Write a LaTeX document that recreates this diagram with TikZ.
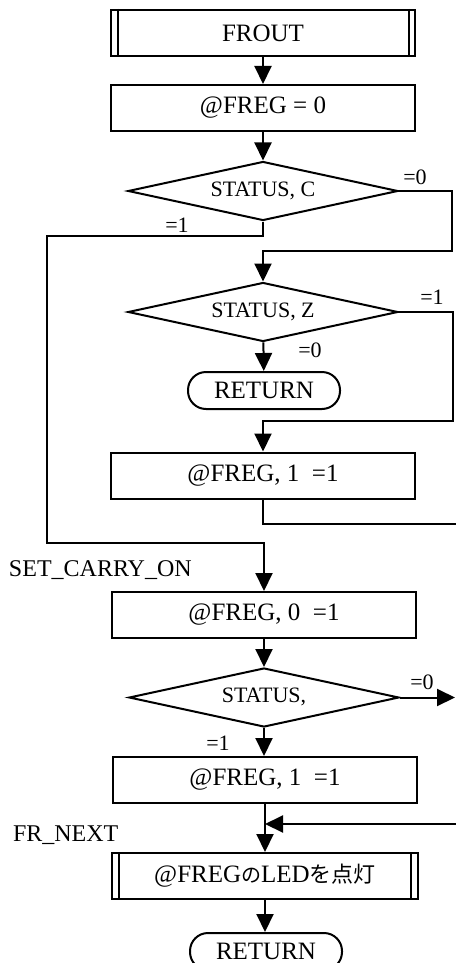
\documentclass[tikz,border=0pt]{standalone}
\usepackage{fontspec}
\setmainfont{Liberation Serif}
\newfontfamily\cjk{Noto Sans CJK JP}
\usetikzlibrary{shapes.geometric,arrows.meta}

\begin{document}
\begin{tikzpicture}[x=0.5pt,y=-0.5pt,line width=1pt,
  box/.style={draw,minimum width=152pt,minimum height=23pt,inner sep=0pt,
    font=\fontsize{12.5}{14}\selectfont},
  dec/.style={draw,diamond,aspect=4.6,minimum width=135pt,minimum height=29.5pt,inner sep=0pt,
    font=\fontsize{11}{12}\selectfont},
  term/.style={draw,rounded corners=9pt,minimum width=76pt,minimum height=18.5pt,
    inner sep=0pt,font=\fontsize{12.5}{14}\selectfont},
  flow/.style={-{Triangle[width=8.5pt,length=9pt]}},
  lbl/.style={inner sep=0pt,font=\fontsize{11}{12}\selectfont},
  tag/.style={inner sep=0pt,anchor=west,font=\fontsize{12}{14}\selectfont}]

\useasboundingbox (0,0) rectangle (455,963);

% main column
\node[box] (frout) at (263,33) {FROUT};
\node[box] (freg0) at (263,108) {@FREG = 0};
\node[dec] (d1) at (263,191) {STATUS, C};
\node[dec] (d2) at (263,312) {STATUS, Z};
\node[term] (ret1) at (264,390.5) {RETURN};
\node[box] (freg1a) at (263,475.5) {@FREG, 1\ \ =1};
\node[box] (freg01) at (264,615) {@FREG, 0\ \ =1};
\node[dec] (d3) at (264,697.5) {\raisebox{2pt}{STATUS,}};
\node[box] (freg1b) at (265,780) {@FREG, 1\ \ =1};
\node[box,minimum width=153pt] (led) at (265,876) {@FREG{\cjk\fontsize{10}{12}\selectfont の}LED{\cjk\fontsize{11}{12}\selectfont を点灯}};
\node[term] (ret2) at (266,951.5) {RETURN};

% predefined-process side bars
\draw ([xshift=3.75pt]frout.north west) -- ([xshift=3.75pt]frout.south west);
\draw ([xshift=-3.75pt]frout.north east) -- ([xshift=-3.75pt]frout.south east);
\draw ([xshift=4pt]led.north west) -- ([xshift=4pt]led.south west);
\draw ([xshift=-4pt]led.north east) -- ([xshift=-4pt]led.south east);

% entry labels
\node[tag] (setc) at (8,570) {SET\_CARRY\_ON};
\node[tag] (frnext) at (12,835) {FR\_NEXT};

% branch labels
\node[lbl] (l1) at (415,177) {=0};
\node[lbl] (l2) at (177,225) {=1};
\node[lbl] (l3) at (432,297) {=1};
\node[lbl] (l4) at (310,350) {=0};
\node[lbl] (l5) at (422,682) {=0};
\node[lbl] (l6) at (218,743) {=1};

% routing points
\coordinate (r1) at (452,251);
\coordinate (c1) at (47,236);
\coordinate (c2) at (47,543);
\coordinate (r2) at (453,421);
\coordinate (e1) at (458,524);
\coordinate (e2) at (455,697.5);
\coordinate (e3) at (458,824);

% connectors
\draw[flow] (frout) -- (freg0);
\draw[flow] (freg0) -- (d1);
\draw[flow] (d1.east) -| (r1) -| (d2.north);
\draw[flow] (d1.south) |- (c1) -- (c2) -| (freg01.north);
\draw[flow] (d2) -- (ret1);
\draw[flow] (d2.east) -| (r2) -| (freg1a.north);
\draw (freg1a.south) |- (e1);
\draw[flow] (freg01) -- (d3);
\draw[flow] (d3.east) -- (e2);
\draw[flow] (d3.south) -- (d3.south |- freg1b.north);
\draw[flow] (freg1b.south) -- (freg1b.south |- led.north);
\draw[flow] (e3) -- (freg1b.south |- e3);
\draw[flow] (led.south) -- (led.south |- ret2.north);
\end{tikzpicture}
\end{document}
